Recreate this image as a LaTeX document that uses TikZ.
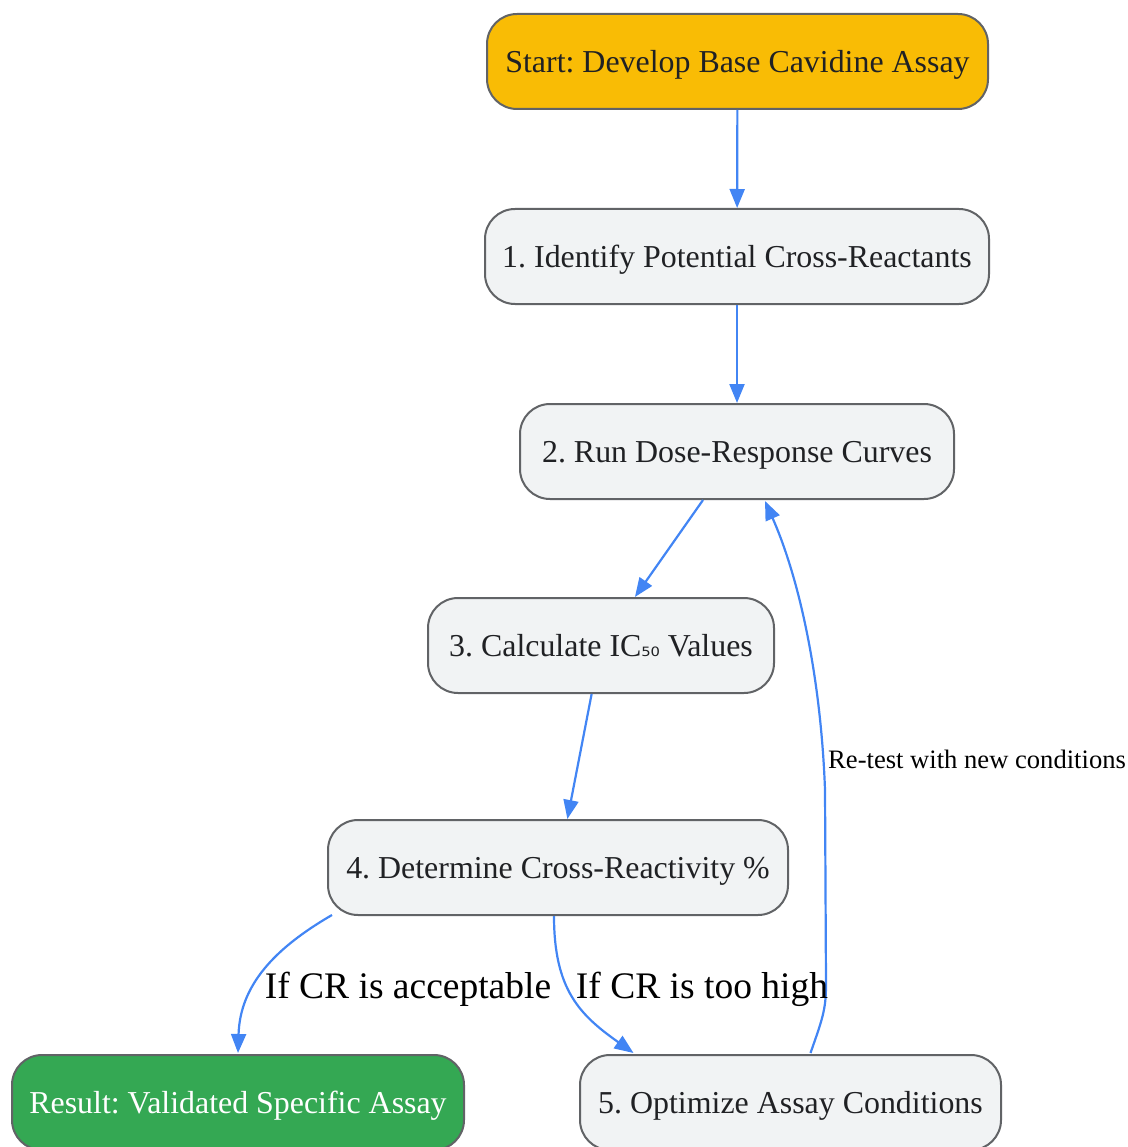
\documentclass[tikz,border=0pt]{standalone}
\usepackage{fontspec}
\setmainfont{Liberation Serif}
\newfontfamily\dvsans{DejaVu Sans}
\usetikzlibrary{arrows.meta}
\definecolor{edgeblue}{HTML}{4285F4}
\definecolor{boxgray}{HTML}{F1F3F4}
\definecolor{boxline}{HTML}{616366}
\definecolor{startyellow}{HTML}{F9BC05}
\definecolor{resgreen}{HTML}{34A853}
\definecolor{txt}{HTML}{202124}
\frenchspacing
\begin{document}
\begin{tikzpicture}[x=1pt,y=-1pt,
  box/.style={draw=boxline, line width=2pt, fill=boxgray, rounded corners=30pt,
    minimum height=95pt, inner sep=0pt, text=txt, text height=22pt, text depth=0pt,
    font=\fontsize{31.9}{36}\selectfont},
  conn/.style={draw=edgeblue, line width=2.2pt, -{Triangle[length=19pt,width=15pt]}},
  elabel/.style={font=\fontsize{37.5}{42}\selectfont, text=black, inner sep=0pt},
  slabel/.style={font=\fontsize{26.6}{31}\selectfont, text=black, inner sep=0pt}]
\useasboundingbox (0,0) rectangle (1127,1147);
\node[box, fill=startyellow, minimum width=501pt] (start) at (737.5,61.5) {Start: Develop Base Cavidine Assay};
\node[box, minimum width=504pt] (n1) at (737,256.5) {1. Identify Potential Cross-Reactants};
\node[box, minimum width=434pt] (n2) at (737,451.5) {2. Run Dose-Response Curves};
\node[box, minimum width=346pt] (n3) at (601,645.5) {3. Calculate IC{\dvsans\fontsize{23}{26}\selectfont ₅₀} Values};
\node[box, minimum width=460pt] (n4) at (558,867.5) {4. Determine Cross-Reactivity \%};
\node[box, fill=resgreen, text=white, minimum width=452pt] (res) at (238,1102.5) {Result: Validated Specific Assay};
\node[box, minimum width=421pt] (n5) at (790.5,1102.5) {5. Optimize Assay Conditions};

\draw[conn] (start) -- (n1);
\draw[conn] (n1) -- (n2);
\draw[conn] (n2) -- (n3);
\draw[conn] (n3) -- (n4);
\draw[conn] ([xshift=5pt,yshift=1pt]n4.south west) .. controls (275,948) and (240,985) .. ([yshift=1pt]res.north);
\draw[conn] ([xshift=-4pt]n4.south) .. controls (554,990) and (580,1015) .. ([xshift=-157pt,yshift=1pt]n5.north);
\draw[conn] ([xshift=20pt,yshift=1pt]n5.north) .. controls (822,1020) and (826,1010) .. (826,985)
  -- (825,790) .. controls (821,680) and (800,580) .. ([xshift=28pt,yshift=-1pt]n2.south);

\node[elabel] (la) at (408,989) {If CR is acceptable};
\node[elabel] (lb) at (702,989) {If CR is too high};
\node[slabel, anchor=west] (lc) at (828,759) {Re-test with new conditions};
\end{tikzpicture}
\end{document}
